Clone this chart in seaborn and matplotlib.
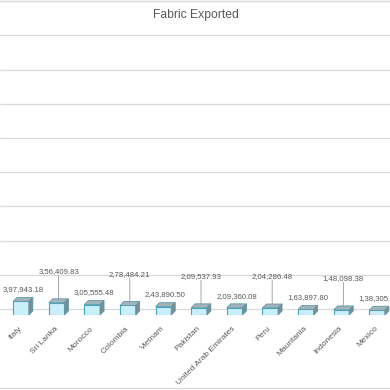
import matplotlib
matplotlib.use("Agg")
import matplotlib.pyplot as plt
import matplotlib.transforms as mtransforms
from matplotlib.patches import Polygon
import seaborn as sns
import pandas as pd

countries = ["Italy", "Sri Lanka", "Morocco", "Colombia", "Vietnam", "Pakistan",
             "United Arab Emirates", "Peru", "Mauritania", "Indonesia", "Mexico"]
exports = [397943.18, 356409.83, 305555.48, 278484.21, 243890.50, 209537.93,
           209360.08, 204286.48, 163897.80, 148098.38, 138305.50]
grid_values = [0, 1e6, 2e6, 3e6, 4e6, 5e6, 6e6, 7e6, 8e6, 9e6]


def indian_format(v):
    whole, frac = f"{v:.2f}".split(".")
    head, tail = whole[:-3], whole[-3:]
    groups = []
    while len(head) > 2:
        groups.insert(0, head[-2:])
        head = head[:-2]
    if head:
        groups.insert(0, head)
    return ",".join(groups + [tail]) + "." + frac


df = pd.DataFrame({"country": countries, "value": exports})

sns.set_style("white")
plt.rcParams["font.family"] = ["Liberation Sans", "DejaVu Sans"]
text_col = "#595959"

fig = plt.figure(figsize=(3.9, 3.9), dpi=100)
ax = fig.add_axes([0, 75 / 390, 1, 315 / 390])

sns.barplot(data=df, x="country", y="value", order=countries, color="#c9f0fa",
            edgecolor="#3fa6c6", linewidth=0.8, width=0.44, saturation=1,
            ax=ax, zorder=3)

xlim = (-0.59, -0.59 + 390 / 35.6)
ylim = (0, 315 / 34.2 * 1e6)
ax.set_xlim(xlim)
ax.set_ylim(ylim)

# back-wall gridlines, shifted up like the 3D wall
shift = mtransforms.ScaledTranslation(0, 0.06, fig.dpi_scale_trans)
ax.hlines(grid_values, xlim[0], xlim[1], colors="#d9d9d9", linewidth=0.9,
          transform=ax.transData + shift, zorder=1)

# fake 3D depth for each bar
dx = 4 * (xlim[1] - xlim[0]) / 390
dy = 4 * (ylim[1] - ylim[0]) / 315
for p in ax.patches:
    x0, w, h = p.get_x(), p.get_width(), p.get_height()
    top = Polygon([(x0, h), (x0 + dx, h + dy), (x0 + w + dx, h + dy), (x0 + w, h)],
                  closed=True, facecolor="#a3b4b9", edgecolor="#5f98a8",
                  linewidth=0.6, zorder=4)
    side = Polygon([(x0 + w, 0), (x0 + w + dx, dy), (x0 + w + dx, h + dy), (x0 + w, h)],
                   closed=True, facecolor="#7c8d92", edgecolor="#5f98a8",
                   linewidth=0.6, zorder=4)
    ax.add_patch(top)
    ax.add_patch(side)

# data labels, every second one lifted with a leader line
for i, (p, v) in enumerate(zip(ax.patches, exports)):
    cx = p.get_x() + p.get_width() / 2 + dx / 2
    ytop = p.get_height() + dy
    lift = 17 if i % 2 == 1 else 3
    ax.annotate(indian_format(v), (cx, ytop), xytext=(0, lift), textcoords="offset points",
                ha="center", va="bottom", fontsize=5.6, color=text_col, zorder=5)
    if i % 2 == 1:
        ax.annotate("", (cx, ytop), xytext=(0, lift), textcoords="offset points",
                    arrowprops=dict(arrowstyle="-", color="#a6a6a6", lw=0.7,
                                    shrinkA=0, shrinkB=0), zorder=2)

ax.set_xticks(range(len(countries)))
ax.set_xticklabels(countries, rotation=45, ha="right", va="center",
                   rotation_mode="anchor", fontsize=6.0, color=text_col)
ax.tick_params(axis="x", length=0, pad=9)
ax.set_yticks([])
ax.set_xlabel("")
ax.set_ylabel("")
sns.despine(ax=ax, left=True, bottom=True)

fig.text(0.502, 1 - 15 / 390, "Fabric Exported", ha="center", va="center",
         fontsize=8.7, color=text_col)
fig.add_artist(plt.Line2D([0, 1], [1 - 1 / 390, 1 - 1 / 390], color="#d9d9d9", lw=0.9))
fig.add_artist(plt.Line2D([0, 1], [2 / 390, 2 / 390], color="#d9d9d9", lw=0.9))

fig.savefig("out.png", dpi=100)
